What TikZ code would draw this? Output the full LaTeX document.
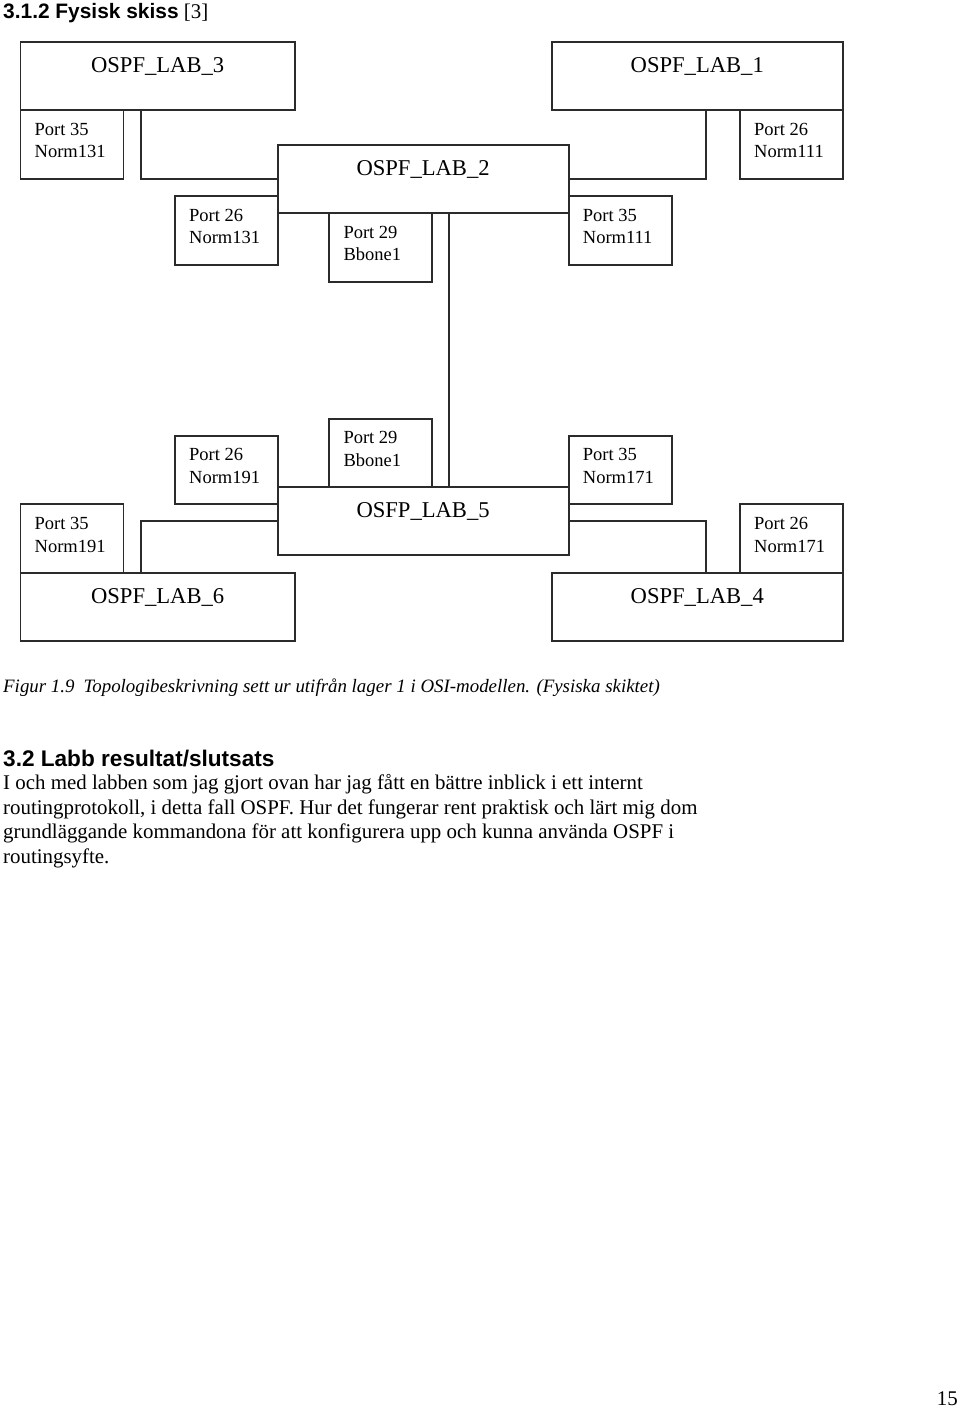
\documentclass[tikz,border=0pt]{standalone}
\usepackage{fontspec}
\setmainfont{Liberation Serif}
\setsansfont{Liberation Sans}
\definecolor{linec}{HTML}{2B2B2B}
\newcommand{\twolines}[2]{\begin{tabular}[t]{@{}l@{}}#1\\#2\end{tabular}}
\begin{document}
\begin{tikzpicture}[x=1pt,y=-1pt,
  bigbox/.style={draw=linec, line width=1.8pt, inner sep=0pt, anchor=north west,
     font=\fontsize{22.6}{27}\selectfont, text height=16pt, text depth=22.3pt},
  portbox/.style={draw=linec, line width=1.8pt, inner sep=0pt, anchor=north west,
     minimum width=103pt, minimum height=68.7pt},
  porttext/.style={inner sep=0pt, anchor=base west, font=\fontsize{18.5}{22.7}\selectfont},
  conn/.style={draw=linec, line width=1.8pt},
  plain/.style={inner sep=0pt, anchor=base west}]
\useasboundingbox (0,0) rectangle (960,1411);

% headings
\node[plain, font=\fontsize{20.9}{24}\selectfont] (h1) at (3,18.3)
  {{\sffamily\bfseries 3.1.2 Fysisk skiss} [3]};

% big boxes
\node[bigbox, minimum width=274.5pt, minimum height=68pt] (lab3) at (19.5,41) {OSPF\_LAB\_3};
\node[bigbox, minimum width=291.3pt, minimum height=68pt] (lab1) at (550.7,41) {OSPF\_LAB\_1};
\node[bigbox, minimum width=291pt, minimum height=68.3pt] (lab2) at (276.7,143.7) {OSPF\_LAB\_2};
\node[bigbox, minimum width=291pt, minimum height=68.3pt] (lab5) at (276.7,486) {OSFP\_LAB\_5};
\node[bigbox, minimum width=274.5pt, minimum height=68pt] (lab6) at (19.5,572) {OSPF\_LAB\_6};
\node[bigbox, minimum width=291.3pt, minimum height=68pt] (lab4) at (550.7,572) {OSPF\_LAB\_4};

% port boxes
\node[portbox] (p35n131) at (19.5,109) {};
\node[portbox] (p26n111) at (739,109) {};
\node[portbox] (p26n131) at (174,195) {};
\node[portbox] (p29top) at (328.3,212) {};
\node[portbox] (p35n111) at (567.7,195) {};
\node[portbox] (p29bot) at (328.3,417.7) {};
\node[portbox] (p26n191) at (174,434.7) {};
\node[portbox] (p35n171) at (567.7,434.7) {};
\node[portbox] (p35n191) at (19.5,503.3) {};
\node[portbox] (p26n171) at (739,503.3) {};

% port texts
\node[porttext] (t35n131) at ([xshift=15pt,yshift=-26pt]p35n131.north west) {\twolines{Port 35}{Norm131}};
\node[porttext] (t26n111) at ([xshift=15pt,yshift=-26pt]p26n111.north west) {\twolines{Port 26}{Norm111}};
\node[porttext] (t26n131) at ([xshift=15pt,yshift=-26pt]p26n131.north west) {\twolines{Port 26}{Norm131}};
\node[porttext] (t29top) at ([xshift=15pt,yshift=-26pt]p29top.north west) {\twolines{Port 29}{Bbone1}};
\node[porttext] (t35n111) at ([xshift=15pt,yshift=-26pt]p35n111.north west) {\twolines{Port 35}{Norm111}};
\node[porttext] (t29bot) at ([xshift=15pt,yshift=-26pt]p29bot.north west) {\twolines{Port 29}{Bbone1}};
\node[porttext] (t26n191) at ([xshift=15pt,yshift=-26pt]p26n191.north west) {\twolines{Port 26}{Norm191}};
\node[porttext] (t35n171) at ([xshift=15pt,yshift=-26pt]p35n171.north west) {\twolines{Port 35}{Norm171}};
\node[porttext] (t35n191) at ([xshift=15pt,yshift=-26pt]p35n191.north west) {\twolines{Port 35}{Norm191}};
\node[porttext] (t26n171) at ([xshift=15pt,yshift=-26pt]p26n171.north west) {\twolines{Port 26}{Norm171}};

% connectors
\draw[conn] ([xshift=-17.05pt]lab3.south) |- (lab2.west);
\draw[conn] ([xshift=8.65pt]lab1.south) |- (lab2.east);
\draw[conn] ([xshift=25.5pt]lab2.south) -- ([xshift=25.5pt]lab5.north);
\draw[conn] ([xshift=-17.05pt]lab6.north) |- (lab5.west);
\draw[conn] (lab5.east) -| ([xshift=8.65pt]lab4.north);

% caption
\node[plain, font=\itshape\fontsize{18.9}{22}\selectfont] (cap) at (3,692)
  {Figur 1.9\hspace{9pt}Topologibeskrivning sett ur utifrån lager 1 i OSI-modellen. (Fysiska skiktet)};

% section 3.2
\node[plain, font=\sffamily\bfseries\fontsize{22.6}{26}\selectfont] (h2) at (3,766)
  {3.2 Labb resultat/slutsats};
\node[plain, font=\fontsize{20.9}{24.5}\selectfont] (body) at (3,789.5)
  {\begin{tabular}[t]{@{}l@{}}
   I och med labben som jag gjort ovan har jag fått en bättre inblick i ett internt\\
   routingprotokoll, i detta fall OSPF. Hur det fungerar rent praktisk och lärt mig dom\\
   grundläggande kommandona för att konfigurera upp och kunna använda OSPF i\\
   routingsyfte.
   \end{tabular}};

% page number
\node[inner sep=0pt, anchor=base east, font=\fontsize{20.9}{24}\selectfont] (pg) at (958,1405) {15};
\end{tikzpicture}
\end{document}
